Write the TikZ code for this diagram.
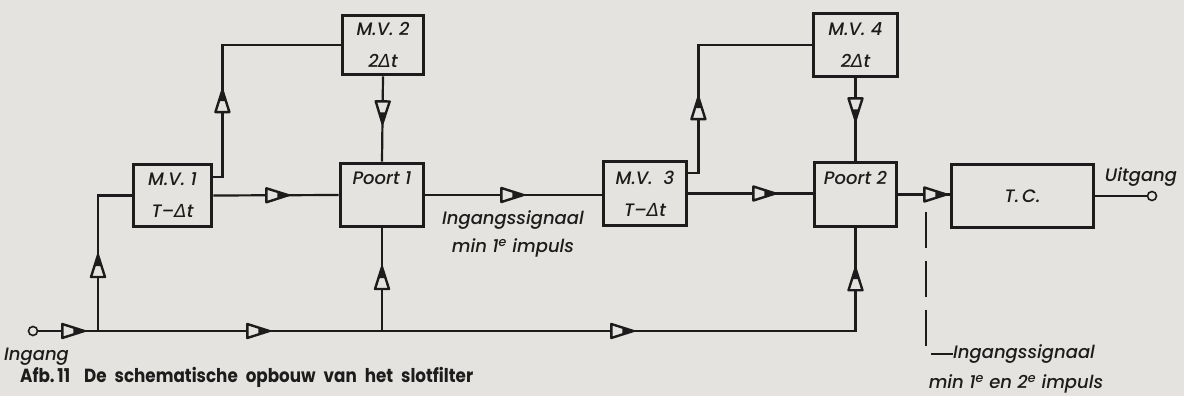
\documentclass[tikz,border=0pt]{standalone}
\usepackage{fontspec}
\setmainfont{Poppins}[ItalicFont={Poppins Medium Italic},BoldFont={Poppins Bold}]
\newfontfamily\dejavu{DejaVu Sans}
\usetikzlibrary{arrows.meta,decorations.markings,calc}
\definecolor{bg}{HTML}{E4E3DF}
\definecolor{ink}{HTML}{1C1C1C}
\newcommand{\mydelta}{{\dejavu\itshape Δ}}
\begin{document}
\begin{tikzpicture}[x=1pt,y=-1pt,
  blk/.style={draw=ink, line width=3.8pt, inner sep=0pt, align=center, text=ink,
    font=\itshape\fontsize{18}{32}\selectfont},
  wire/.style={draw=ink, line width=2.2pt},
  lbl/.style={font=\itshape\fontsize{18}{28}\selectfont, text=ink, inner sep=0pt},
  term/.style={circle, draw=ink, line width=1.6pt, fill=bg, minimum size=9pt, inner sep=0pt},
  arrowat/.style={postaction={decorate,decoration={markings,
    mark=at position #1 with {
      \draw[ink, line width=2.4pt, line join=round, fill=bg] (-22pt,-7pt) -- (0pt,0pt) -- (-22pt,7pt) -- cycle;
      \fill[ink] (-11pt,-3.5pt) -- (0.5pt,0pt) -- (-11pt,3.5pt) -- cycle;}}}}
]
\fill[bg] (0,0) rectangle (1184,396);
\useasboundingbox (0,0) rectangle (1184,396);

% blocks
\node[blk, minimum width=78pt, minimum height=62pt] (mv1) at (172.5,195.5) {M.V. 1\\T–\mydelta t};
\node[blk, minimum width=81pt, minimum height=59pt] (mv2) at (383,45) {M.V. 2\\2\mydelta t};
\node[blk, minimum width=83pt, minimum height=63pt] (p1) at (382,195) {Poort 1\\[-8pt]\strut};
\node[blk, minimum width=83pt, minimum height=64pt] (mv3) at (645,193.5) {M.V.\ \ 3\\T–\mydelta t};
\node[blk, minimum width=84pt, minimum height=63pt] (mv4) at (855.5,45) {M.V. 4\\2\mydelta t};
\node[blk, minimum width=82pt, minimum height=64pt] (p2) at (855.5,194.5) {Poort 2\\[-8pt]\strut};
\node[blk, minimum width=142pt, minimum height=63pt] (tc) at (1022.5,196) {T.\,C.};

% terminals
\node[term] (in) at (33,331) {};
\node[term] (out) at (1152,196) {};
\node[lbl, anchor=west] (ingang) at (4,357) {Ingang};
\node[lbl] (uitgang) at (1141,177) {Uitgang};

% junctions
\coordinate (j1) at (98,331);
\coordinate (j2) at (p1.south |- in);
\coordinate (mv1o) at ($(mv1.north east)!0.22!(mv1.south east)$);
\coordinate (mv3o) at ($(mv3.north east)!0.2!(mv3.south east)$);

% wires
\draw[wire, arrowat=46pt, arrowat=231pt, arrowat=595pt, arrowat=880pt]
  (in.east) -- (p2.south |- in) -- (p2.south);
\draw[wire, arrowat=76pt] (j1) |- (mv1.west);
\draw[wire, arrowat=64pt] (j2) -- (p1.south);
\draw[wire, arrowat=75pt] (mv1.east) -- (p1.west);
\draw[wire, arrowat=96pt] (mv1o) -- ++(9,0) |- (mv2.west);
\draw[wire, arrowat=47pt] (mv2.south) -- (p1.north);
\draw[wire, arrowat=98pt] (p1.east) -- (mv3.west |- p1.east);
\draw[wire, arrowat=86pt] (mv3o) -- ++(10,0) |- (mv4.west);
\draw[wire, arrowat=87pt] (mv3.east) -- (p2.west |- mv3.east);
\draw[wire, arrowat=42pt] (mv4.south) -- (p2.north);
\draw[wire, arrowat=48pt] (p2.east) -- (tc.west |- p2.east);
\draw[wire] (tc.east) -- (out.west);

% labels
\node[lbl, align=center] (sig1) at (513,234) {Ingangssignaal\\min 1\textsuperscript{e} impuls};
\node[lbl, anchor=west] (sig2a) at (953,354) {Ingangssignaal};
\node[lbl] (sig2b) at (1016,384) {min 1\textsuperscript{e} en 2\textsuperscript{e} impuls};
\coordinate (d1) at (926,212);
\draw[wire, dash pattern=on 36pt off 13pt] (d1) |- (sig2a.west);

% caption
\node[anchor=west, inner sep=0pt, text=ink, font=\bfseries\fontsize{19}{21}\selectfont] (cap) at (20,377)
  {\resizebox{453pt}{\height}{Afb.\,11\hspace{16pt}De\hspace{9pt}schematische\hspace{9pt}opbouw\hspace{9pt}van\hspace{9pt}het\hspace{9pt}slotfilter}};
\end{tikzpicture}
\end{document}
